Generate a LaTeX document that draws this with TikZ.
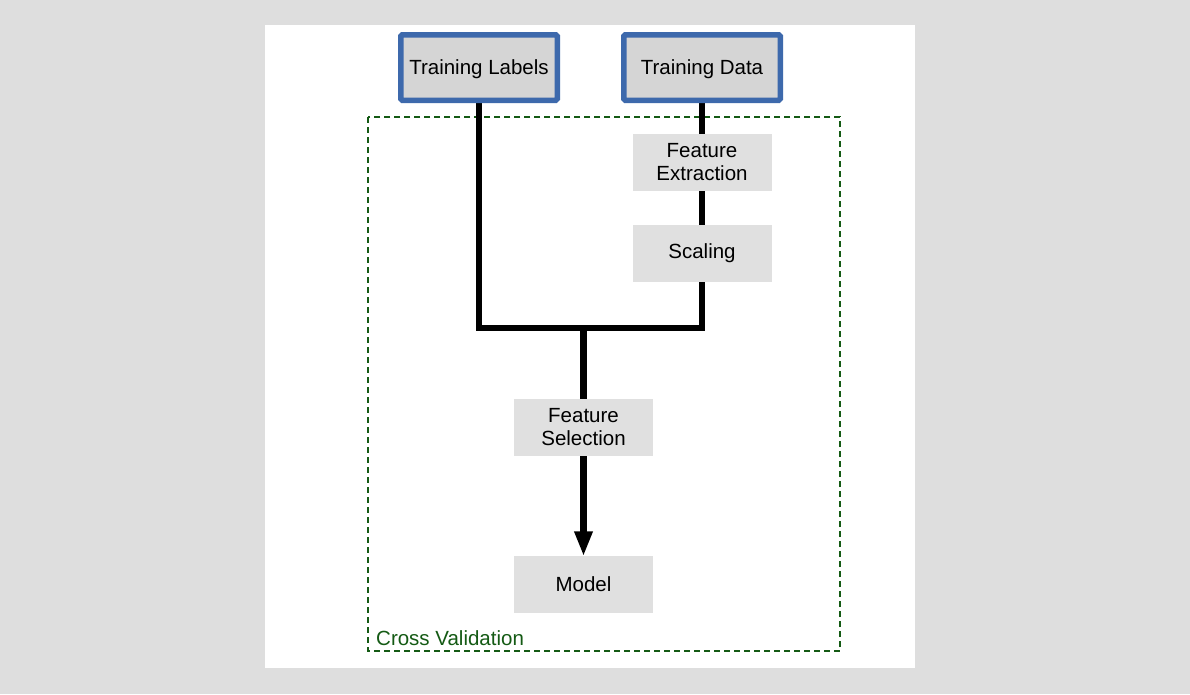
\documentclass[tikz,border=0pt]{standalone}
\usepackage{fontspec}
\setmainfont{Liberation Sans}
\usetikzlibrary{arrows.meta,backgrounds}
\definecolor{bgrey}{HTML}{DEDEDE}
\definecolor{inblue}{HTML}{3D69AC}
\definecolor{infill}{HTML}{D5D5D5}
\definecolor{procfill}{HTML}{E0E0E0}
\definecolor{cvgreen}{HTML}{145A14}
\tikzset{
  inputbox/.style={draw=inblue, line width=5.5pt, fill=infill, rounded corners=1.5pt,
    minimum width=156.5pt, minimum height=65.5pt, inner sep=0pt, text depth=0pt,
    font=\fontsize{20.5}{23}\selectfont, align=center},
  procbox/.style={fill=procfill, minimum width=139pt, minimum height=57pt, inner sep=0pt,
    font=\fontsize{20.5}{23}\selectfont, align=center},
  flow/.style={line width=6.5pt, black},
  cvframe/.style={draw=cvgreen, line width=2pt, dash pattern=on 6pt off 4pt},
}
\begin{document}
\begin{tikzpicture}[x=1pt,y=-1pt]
\useasboundingbox (0,0) rectangle (1190,694);
\node[inputbox] (tl) at (479,67.5) {Training Labels};
\node[inputbox] (td) at (702,67.5) {Training Data};
\node[procbox] (fe) at (702,162.5) {Feature\\Extraction};
\node[procbox] (sc) at (702,253.5) {Scaling};
\node[procbox] (fs) at (583.5,427.5) {Feature\\Selection};
\node[procbox] (model) at (583.5,584.5) {Model};
\coordinate (j) at (583.5,328);
\coordinate (cvnw) at (368,117);
\coordinate (cvse) at (840,651);
\node[anchor=base west, text=cvgreen, inner sep=0pt, font=\fontsize{20.5}{23}\selectfont] (cvlabel) at (376,645) {Cross Validation};
\begin{pgfonlayer}{background}
  \fill[bgrey] (0,0) rectangle (1190,694);
  \fill[white] (265,25) rectangle (915,668);
  \draw[cvframe] (cvnw) rectangle (cvse);
  \draw[flow, line join=miter] (tl.south) |- (j) -| (sc.south);
  \draw[flow] (td.south) -- (fe.north);
  \draw[flow] (fe.south) -- (sc.north);
  \draw[flow] (j) -- (fs.north);
  \draw[flow, -{Triangle[length=25pt,width=17pt]}, shorten >=-0.5pt] (fs.south) -- (model.north);
\end{pgfonlayer}
\end{tikzpicture}
\end{document}
